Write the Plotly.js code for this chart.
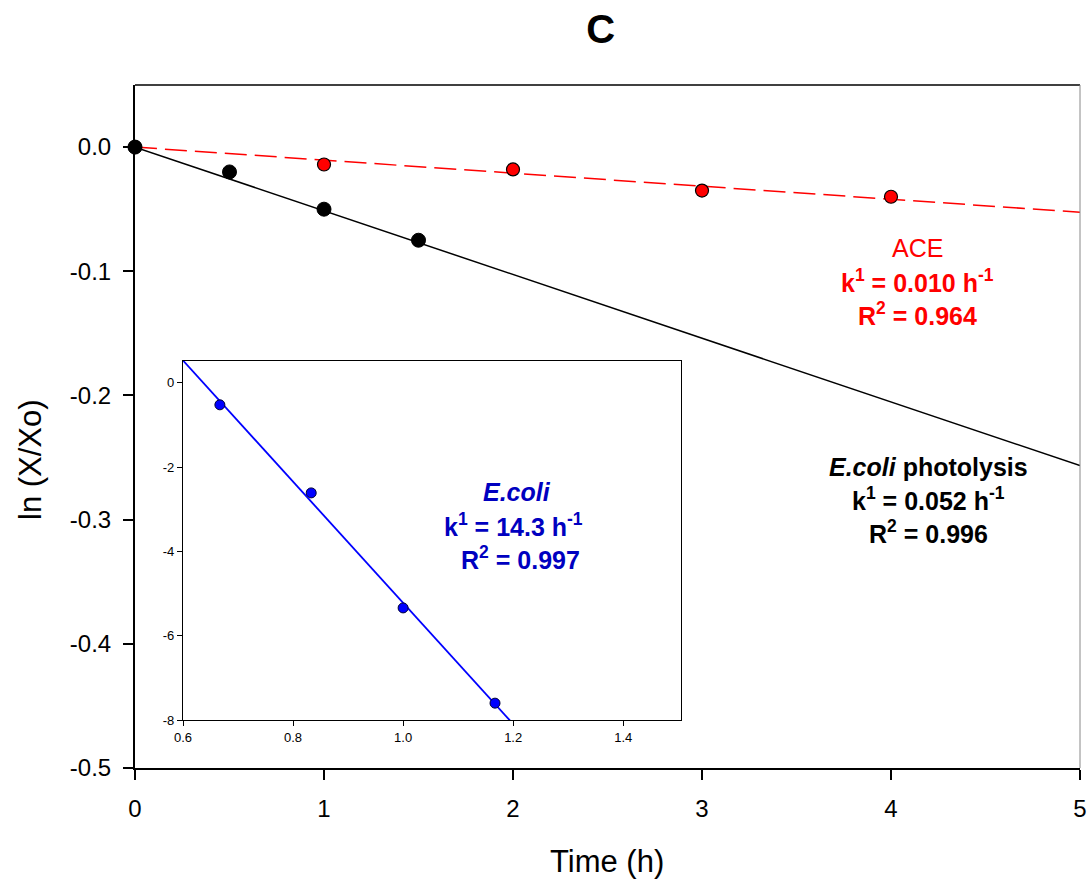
<!DOCTYPE html>
<html>
<head>
<meta charset="utf-8">
<script src="https://cdn.plot.ly/plotly-3.0.1.min.js"></script>
<style>html,body{margin:0;padding:0;background:#fff;}#chart{width:1088px;height:879px;}</style>
</head>
<body>
<div id="chart"></div>
<script>
// ---- data ----
const ecoliTime = [0, 0.5, 1, 1.5];
const ecoliLn = [0, -0.020, -0.050, -0.075];
const aceTime = [0, 1, 2, 3, 4];
const aceLn = [0, -0.014, -0.018, -0.035, -0.040];
const ecoliSlope = -0.0513;
const aceSlope = -0.0105;
const fitX = [0, 5];

const insetTime = [0.667, 0.833, 1.0, 1.167];
const insetLn = [-0.52, -2.61, -5.34, -7.60];
const insetSlope = -14.38;
const insetIntercept = 9.16;
const insetFitX = [0.6, 1.5];

const mainXTicks = [0, 1, 2, 3, 4, 5];
const mainYTicks = [0, -0.1, -0.2, -0.3, -0.4, -0.5];
const mainYLabels = ['0.0', '-0.1', '-0.2', '-0.3', '-0.4', '-0.5'];
const insetXTicks = [0.6, 0.8, 1.0, 1.2, 1.4];
const insetXLabels = ['0.6', '0.8', '1.0', '1.2', '1.4'];
const insetYTicks = [0, -2, -4, -6, -8];
const insetYLabels = ['0', '-2', '-4', '-6', '-8'];

const FONT = 'Liberation Sans, Arial, sans-serif';

const traces = [
  {x: fitX, y: fitX.map(t => ecoliSlope * t), mode: 'lines', line: {color: '#000', width: 1.5}, hoverinfo: 'skip'},
  {x: fitX, y: fitX.map(t => aceSlope * t), mode: 'lines', line: {color: '#ff0000', width: 1.5, dash: '22px,8px'}, hoverinfo: 'skip'},
  {x: aceTime, y: aceLn, mode: 'markers', cliponaxis: false,
   marker: {color: '#ff0000', size: 13, line: {color: '#000', width: 1.2}}},
  {x: ecoliTime, y: ecoliLn, mode: 'markers', cliponaxis: false,
   marker: {color: '#000', size: 14, line: {color: '#000', width: 1}}},
  {x: insetFitX, y: insetFitX.map(t => insetIntercept + insetSlope * t), mode: 'lines', xaxis: 'x2', yaxis: 'y2',
   line: {color: '#0000ff', width: 1.8}, hoverinfo: 'skip'},
  {x: insetTime, y: insetLn, mode: 'markers', xaxis: 'x2', yaxis: 'y2', cliponaxis: false,
   marker: {color: '#0000ff', size: 10, line: {color: '#000033', width: 1}}}
];

const ann = (x, y, text, color, size, extra) => Object.assign({xref: 'paper', yref: 'paper', x: x, y: y, text: text, showarrow: false,
  font: {family: FONT, size: size || 25, color: color}, xanchor: 'center', yanchor: 'middle'}, extra || {});

// paper coords helper: plot area x 135..1080, y 85..768
const px = v => (v - 135) / 945;
const py = v => (768 - v) / 683;

const layout = {
  width: 1088, height: 879,
  margin: {l: 135, r: 8, t: 85, b: 111},
  paper_bgcolor: '#fff', plot_bgcolor: '#fff',
  showlegend: false,
  font: {family: FONT, color: '#000'},
  title: {text: '<b>C</b>', font: {family: FONT, size: 40, color: '#000'}, x: 0.552, xanchor: 'center', y: 0.967, yanchor: 'middle'},
  xaxis: {
    range: [0, 5], domain: [0, 1], tickvals: mainXTicks, ticks: 'outside', ticklen: 10, tickwidth: 2, tickcolor: '#000',
    showline: true, linewidth: 2, linecolor: '#000', showgrid: false, zeroline: false, ticklabelstandoff: 8,
    tickfont: {family: FONT, size: 24}
  },
  yaxis: {
    range: [-0.5, 0.05], domain: [0, 1], tickvals: mainYTicks, ticktext: mainYLabels, ticks: 'outside', ticklen: 10, tickwidth: 2, tickcolor: '#000',
    showline: true, linewidth: 2, linecolor: '#000', showgrid: false, zeroline: false, ticklabelstandoff: 7,
    tickfont: {family: FONT, size: 24}
  },
  xaxis2: {
    anchor: 'y2', domain: [px(183), px(681)], range: [0.6, 1.505], tickvals: insetXTicks, ticktext: insetXLabels,
    ticks: 'outside', ticklen: 5, tickwidth: 1, tickcolor: '#000', showline: true, mirror: true, linewidth: 1.2, linecolor: '#000',
    showgrid: false, zeroline: false, tickfont: {family: FONT, size: 13}
  },
  yaxis2: {
    anchor: 'x2', domain: [py(720), py(361)], range: [-8, 0.52], tickvals: insetYTicks, ticktext: insetYLabels,
    ticks: 'outside', ticklen: 5, tickwidth: 1, tickcolor: '#000', showline: true, mirror: true, linewidth: 1.2, linecolor: '#000',
    showgrid: false, zeroline: false, tickfont: {family: FONT, size: 13}
  },
  shapes: [
    {type: 'line', xref: 'paper', yref: 'paper', x0: 0, x1: 1, y0: 1, y1: 1, line: {color: '#000', width: 1.5}},
    {type: 'line', xref: 'paper', yref: 'paper', x0: 1, x1: 1, y0: 0, y1: 1, line: {color: '#888', width: 1}}
  ],
  annotations: [
    ann(px(607), py(861), 'Time (h)', '#000', 31),
    ann(px(30), py(460), 'ln (X/Xo)', '#000', 31, {textangle: -90}),
    ann(px(917), py(248), 'ACE', '#ff0000'),
    ann(px(917), py(281), '<b>k<sup>1</sup> = 0.010 h<sup>-1</sup></b>', '#ff0000'),
    ann(px(917), py(314), '<b>R<sup>2</sup> = 0.964</b>', '#ff0000'),
    ann(px(928), py(467), '<b><i>E.coli</i> photolysis</b>', '#000'),
    ann(px(928), py(499), '<b>k<sup>1</sup> = 0.052 h<sup>-1</sup></b>', '#000'),
    ann(px(928), py(532), '<b>R<sup>2</sup> = 0.996</b>', '#000'),
    ann(px(517), py(492), '<b><i>E.coli</i></b>', '#0000c0'),
    ann(px(513), py(525), '<b>k<sup>1</sup> = 14.3 h<sup>-1</sup></b>', '#0000c0'),
    ann(px(520), py(558), '<b>R<sup>2</sup> = 0.997</b>', '#0000c0')
  ]
};

Plotly.newPlot('chart', traces, layout, {displayModeBar: false, staticPlot: true});
</script>
</body>
</html>
